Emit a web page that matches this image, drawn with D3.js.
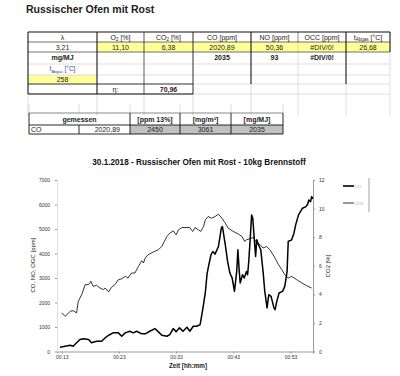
<!DOCTYPE html>
<html>
<head>
<meta charset="utf-8">
<script src="https://cdn.jsdelivr.net/npm/d3@7"></script>
<style>
body { margin: 0; background: #fff; }
svg { display: block; font-family: "Liberation Sans", Arial, sans-serif; }
</style>
</head>
<body>
<div id="chart"></div>
<script>
// Sheet values
const sheetTitle = 'Russischer Ofen mit Rost';
const headerMain = ['λ', 'O', 'CO', 'CO [ppm]', 'NO [ppm]', 'OCC [ppm]', 't'];
const headerSub = ['', '2', '2', '', '', '', 'Abgas'];
const headerRest = ['', ' [%]', ' [%]', '', '', '', ' [°C]'];
const measuredRow = ['3,21', '11,10', '6,38', '2020,89', '50,36', '#DIV/0!', '26,68'];
const mgRow = ['mg/MJ', '', '', '2035', '93', '#DIV/0!', ''];
const tGas = '258';
const eta = ['η:', '70,96'];

const coHeader = ['gemessen', '[ppm 13%]', '[mg/m³]', '[mg/MJ]'];
const coRow = ['CO', '2020,89', '2450', '3061', '2035'];

// Chart values
const chartTitle = '30.1.2018 - Russischer Ofen mit Rost - 10kg Brennstoff';
const tickMinutes = [13, 23, 33, 43, 53];
const tickLabels = ['00:13', '00:23', '00:33', '00:43', '00:53'];
const legendNames = ['CO', 'CO2'];

// CO [ppm] (thick line), time in minutes
const coTime = [12.7, 13.6, 14.5, 15.0, 15.6, 16.2, 16.8, 17.7, 18.2, 19.1, 20.0, 20.6, 21.2, 22.0, 22.9, 23.5,
  24.1, 24.9, 25.5, 26.1, 27.0, 27.6, 28.4, 29.3, 29.9, 30.5, 31.4, 31.9, 32.5, 33.0, 33.6, 34.2, 34.9,
  35.4, 36.0, 36.6, 37.2, 37.7, 38.1, 38.4, 38.6, 39.1, 39.4, 39.8, 40.4, 40.9, 41.1, 41.6, 42.0, 42.4,
  42.8, 43.2, 43.6, 43.8, 44.0, 44.2, 44.6, 44.9, 45.3, 45.5, 45.7, 46.0, 46.2, 46.4, 46.7, 46.9, 47.1,
  47.4, 47.8, 48.2, 48.5, 48.9, 49.2, 49.6, 50.1, 50.3, 50.6, 51.0, 51.6, 52.0, 52.4, 52.6, 53.2, 53.6,
  53.9, 54.4, 55.1, 55.7, 56.0, 56.2, 56.5, 56.7, 56.9];
const coValue = [175, 216, 256, 216, 354, 488, 517, 488, 354, 419, 419, 558, 663, 761, 761, 623,
  761, 826, 761, 826, 720, 720, 826, 936, 802, 663, 623, 692, 936, 802, 965, 826, 989,
  826, 1030, 1030, 1099, 1778, 2389, 3134, 3406, 3948, 4082, 3976, 4286, 5034, 5100, 4355, 3675, 3203,
  3000, 2454, 3268, 4151, 3406, 2796, 3134, 3000, 3268, 3134, 3675, 4762, 5576, 5442, 4489, 3879, 4558,
  4355, 4151, 3268, 2454, 1778, 2320, 2251, 1778, 1709, 2047, 2389, 2454, 2658, 3268, 4489, 4558, 4831,
  5169, 5576, 5848, 5914, 6011, 6186, 6117, 6321, 6227];

// CO2 [%] (thin line), time in minutes
const co2Time = [13.0, 13.6, 14.5, 15.0, 15.6, 15.9, 16.5, 17.1, 17.7, 18.1, 18.5, 19.1, 19.7, 20.3, 20.6,
  21.2, 21.7, 22.3, 22.9, 23.5, 24.1, 24.6, 25.2, 25.8, 26.4, 27.0, 27.3, 27.6, 28.1, 29.0, 29.9, 30.5,
  30.8, 31.4, 31.9, 32.5, 33.0, 33.4, 34.0, 34.9, 35.4, 35.9, 36.3, 36.9, 37.3, 37.8, 38.1, 38.6, 39.2,
  39.8, 40.4, 41.0, 41.6, 42.1, 43.0, 43.9, 44.5, 45.0, 45.3, 45.9, 46.5, 47.1, 47.7, 48.2, 48.8, 49.4,
  50.3, 50.9, 51.5, 52.0, 52.6, 53.2, 54.1, 55.0, 55.8, 56.7];
const co2Value = [2.70, 2.46, 2.81, 2.86, 2.70, 3.51, 3.98, 4.68, 4.68, 4.91, 4.56, 4.63, 4.44, 4.33, 4.44,
  4.17, 4.49, 4.68, 5.02, 5.09, 5.26, 5.14, 5.49, 5.49, 5.95, 6.35, 6.19, 6.54, 6.77, 6.96, 7.12, 7.35,
  7.59, 8.05, 8.28, 8.44, 8.16, 8.51, 8.67, 8.67, 8.67, 8.40, 8.67, 8.51, 8.40, 8.74, 9.21, 9.44, 9.33,
  9.44, 9.61, 9.33, 8.98, 8.63, 8.40, 8.21, 8.05, 7.70, 7.82, 7.89, 7.98, 7.59, 7.47, 7.24, 7.35, 7.12,
  6.54, 6.07, 5.72, 5.37, 5.14, 5.26, 5.02, 4.79, 4.61, 4.44];

const svg = d3.select('#chart').append('svg')
  .attr('width', 400)
  .attr('height', 376);

svg.append('rect').attr('width', 400).attr('height', 376).attr('fill', '#fff');

// ---------- Sheet title ----------
svg.append('text')
  .attr('x', 26).attr('y', 13)
  .style('font-size', '10.5px').style('font-weight', 'bold')
  .attr('fill', '#222')
  .text(sheetTitle);

// ---------- Table 1 ----------
const colX = [28, 97, 144, 193, 251, 298, 346, 390];
const rowY = [32, 42, 52, 64, 75, 84, 94];
const t1 = svg.append('g');
const mid = i => (colX[i] + colX[i + 1]) / 2;

// fills
measuredRow.forEach((v, i) => {
  if (i > 0) {
    t1.append('rect').attr('x', colX[i]).attr('y', rowY[1])
      .attr('width', colX[i + 1] - colX[i]).attr('height', rowY[2] - rowY[1])
      .attr('fill', '#ffff99');
  }
});
t1.append('rect').attr('x', colX[0]).attr('y', rowY[4])
  .attr('width', colX[1] - colX[0]).attr('height', rowY[5] - rowY[4])
  .attr('fill', '#ffff99');

// light grid
const grey = '#d4d4d4';
[rowY[3], rowY[4], rowY[5], rowY[6]].forEach(y => {
  t1.append('line').attr('x1', colX[0]).attr('x2', colX[7]).attr('y1', y).attr('y2', y)
    .attr('stroke', grey).attr('stroke-width', 0.8);
});
colX.forEach(x => {
  t1.append('line').attr('x1', x).attr('x2', x).attr('y1', rowY[0]).attr('y2', 116)
    .attr('stroke', grey).attr('stroke-width', 0.8);
});

// black borders
const black = (x1, y1, x2, y2, w) => t1.append('line')
  .attr('x1', x1).attr('y1', y1).attr('x2', x2).attr('y2', y2)
  .attr('stroke', '#111').attr('stroke-width', w || 0.8);
black(colX[0], rowY[0], colX[7], rowY[0], 1.2);
black(colX[0], rowY[1], colX[7], rowY[1], 0.6);
black(colX[0], rowY[2], colX[7], rowY[2], 0.6);
black(colX[0], rowY[5], colX[3], rowY[5], 0.8);
black(colX[0], rowY[6], colX[3], rowY[6], 1);
black(colX[0], rowY[0], colX[0], rowY[6], 1);
black(colX[1], rowY[0], colX[1], rowY[6], 1);
black(colX[2], rowY[0], colX[2], rowY[6], 0.6);
black(colX[3], rowY[0], colX[3], rowY[6], 0.8);
black(colX[4], rowY[0], colX[4], rowY[5], 1);
black(colX[5], rowY[0], colX[5], rowY[1], 0.4);
black(colX[6], rowY[0], colX[6], rowY[5], 1);
black(colX[7], rowY[0], colX[7], rowY[2], 1);

// header text with subscripts
headerMain.forEach((h, i) => {
  const txt = t1.append('text')
    .attr('x', mid(i)).attr('y', 39.5)
    .attr('text-anchor', 'middle')
    .style('font-size', '7px').attr('fill', '#222');
  txt.append('tspan').text(h);
  if (headerSub[i]) {
    txt.append('tspan').attr('dy', 1.5).style('font-size', '4.5px').text(headerSub[i]);
    txt.append('tspan').attr('dy', -1.5).text(headerRest[i]);
  }
});

measuredRow.forEach((v, i) => {
  t1.append('text').attr('x', mid(i)).attr('y', 49.5)
    .attr('text-anchor', 'middle').style('font-size', '7px').attr('fill', '#222')
    .text(v);
});
mgRow.forEach((v, i) => {
  if (!v) return;
  t1.append('text').attr('x', mid(i)).attr('y', 60)
    .attr('text-anchor', 'middle').style('font-size', '7px').style('font-weight', 'bold')
    .attr('fill', '#222').text(v);
});
const tg = t1.append('text').attr('x', mid(0)).attr('y', 71)
  .attr('text-anchor', 'middle').style('font-size', '6.5px').attr('fill', '#2b4c9a');
tg.append('tspan').text('t');
tg.append('tspan').attr('dy', 1.5).style('font-size', '4px').text('Abgas');
tg.append('tspan').attr('dy', -1.5).text(' [°C]');
t1.append('text').attr('x', mid(0)).attr('y', 81.5)
  .attr('text-anchor', 'middle').style('font-size', '7px').attr('fill', '#222').text(tGas);
t1.append('text').attr('x', mid(1) - 5).attr('y', 91.5)
  .attr('text-anchor', 'middle').style('font-size', '7px').attr('fill', '#222').text(eta[0]);
t1.append('text').attr('x', mid(2)).attr('y', 91.5)
  .attr('text-anchor', 'middle').style('font-size', '7px').style('font-weight', 'bold')
  .attr('fill', '#222').text(eta[1]);

// ---------- Table 2 ----------
const colX2 = [29, 79, 130, 180, 231, 283];
const rowY2 = [113, 125, 134];
const t2 = svg.append('g');
[2, 3, 4].forEach(i => {
  t2.append('rect').attr('x', colX2[i]).attr('y', rowY2[1])
    .attr('width', colX2[i + 1] - colX2[i]).attr('height', rowY2[2] - rowY2[1])
    .attr('fill', '#c0c0c0');
});
colX2.forEach(x => {
  t2.append('line').attr('x1', x).attr('x2', x).attr('y1', 104).attr('y2', rowY2[0])
    .attr('stroke', grey).attr('stroke-width', 0.8);
});
const line2 = (x1, y1, x2, y2, w) => t2.append('line')
  .attr('x1', x1).attr('y1', y1).attr('x2', x2).attr('y2', y2)
  .attr('stroke', '#111').attr('stroke-width', w || 0.8);
line2(colX2[0], rowY2[0], colX2[5], rowY2[0], 0.5);
line2(colX2[0], rowY2[1], colX2[5], rowY2[1], 0.9);
line2(colX2[0], rowY2[2], colX2[5], rowY2[2], 0.9);
[0, 2, 3, 4, 5].forEach(i => line2(colX2[i], rowY2[0], colX2[i], rowY2[2], 0.9));
line2(colX2[1], rowY2[1], colX2[1], rowY2[2], 0.9);

t2.append('text').attr('x', (colX2[0] + colX2[2]) / 2).attr('y', 122)
  .attr('text-anchor', 'middle').style('font-size', '7px').style('font-weight', 'bold')
  .attr('fill', '#222').text(coHeader[0]);
[1, 2, 3].forEach(k => {
  t2.append('text').attr('x', (colX2[k + 1] + colX2[k + 2]) / 2).attr('y', 122)
    .attr('text-anchor', 'middle').style('font-size', '7px').style('font-weight', 'bold')
    .attr('fill', '#222').text(coHeader[k]);
});
t2.append('text').attr('x', colX2[0] + 2).attr('y', 132)
  .style('font-size', '7px').attr('fill', '#222').text(coRow[0]);
t2.append('text').attr('x', colX2[2] - 10).attr('y', 132)
  .attr('text-anchor', 'end').style('font-size', '7px').attr('fill', '#222').text(coRow[1]);
[2, 3, 4].forEach(i => {
  t2.append('text').attr('x', (colX2[i] + colX2[i + 1]) / 2).attr('y', 132)
    .attr('text-anchor', 'middle').style('font-size', '7px').attr('fill', '#222').text(coRow[i]);
});

// ---------- Chart ----------
const plotLeft = 57, plotRight = 313, plotTop = 180, plotBottom = 351.5;

svg.append('text')
  .attr('x', 199).attr('y', 164.5)
  .attr('text-anchor', 'middle')
  .style('font-size', '8.2px').style('font-weight', 'bold')
  .attr('fill', '#111')
  .text(chartTitle);

const xScale = d3.scaleLinear().domain([12.18, 56.93]).range([plotLeft, plotRight]);
const yLeft = d3.scaleLinear().domain([0, 7000]).range([plotBottom, plotTop]);
const yRight = d3.scaleLinear().domain([0, 12]).range([plotBottom, plotTop]);

const g = svg.append('g');

// x axis
const xAxis = d3.axisBottom(xScale)
  .tickValues(tickMinutes)
  .tickFormat((d, i) => tickLabels[i])
  .tickSize(2);
const gx = g.append('g').attr('transform', `translate(0,${plotBottom})`).call(xAxis);
gx.select('.domain').attr('stroke', '#999');
gx.selectAll('.tick line').attr('stroke', '#999');
gx.selectAll('text').style('font-size', '5px').attr('fill', '#333').attr('dy', '0.5em')
  .style('font-family', '"Liberation Sans", Arial, sans-serif');

// left axis
const yAxisL = d3.axisLeft(yLeft).tickValues(d3.range(0, 7001, 1000)).tickSize(2)
  .tickFormat(d => d);
const gl = g.append('g').attr('transform', `translate(${plotLeft},0)`).call(yAxisL);
gl.select('.domain').attr('stroke', '#e0e0e0');
gl.selectAll('.tick line').attr('stroke', '#999');
gl.selectAll('text').style('font-size', '5px').attr('fill', '#333').attr('x', -7)
  .style('font-family', '"Liberation Sans", Arial, sans-serif');

// right axis
const yAxisR = d3.axisRight(yRight).tickValues(d3.range(0, 13, 2)).tickSize(2);
const gr = g.append('g').attr('transform', `translate(${plotRight},0)`).call(yAxisR);
gr.select('.domain').attr('stroke', '#999');
gr.selectAll('.tick line').attr('stroke', '#999');
gr.selectAll('text').style('font-size', '5px').attr('fill', '#333').attr('x', 6)
  .style('font-family', '"Liberation Sans", Arial, sans-serif');

// axis titles
svg.append('text')
  .attr('transform', 'rotate(-90)')
  .attr('x', -265).attr('y', 35)
  .attr('text-anchor', 'middle')
  .style('font-size', '6px').attr('fill', '#222')
  .text('CO, NO, OGC [ppm]');
svg.append('text')
  .attr('transform', 'rotate(-90)')
  .attr('x', -266).attr('y', 330)
  .attr('text-anchor', 'middle')
  .style('font-size', '6px').attr('fill', '#222')
  .text('CO2 [%]');
svg.append('text')
  .attr('x', 188).attr('y', 368)
  .attr('text-anchor', 'middle')
  .style('font-size', '6.3px').style('font-weight', 'bold').attr('fill', '#222')
  .text('Zeit [hh:mm]');

// lines
const coData = coTime.map((t, i) => ({ t: t, v: coValue[i] }));
const co2Data = co2Time.map((t, i) => ({ t: t, v: co2Value[i] }));

g.append('path')
  .datum(co2Data)
  .attr('fill', 'none').attr('stroke', '#000').attr('stroke-width', 0.8)
  .attr('d', d3.line().x(d => xScale(d.t)).y(d => yRight(d.v)));

g.append('path')
  .datum(coData)
  .attr('fill', 'none').attr('stroke', '#000').attr('stroke-width', 1.5)
  .attr('stroke-linejoin', 'round')
  .attr('d', d3.line().x(d => xScale(d.t)).y(d => yLeft(d.v)));

// legend
const legend = svg.append('g');
[1.6, 0.8].forEach((w, i) => {
  const y = 186 + i * 17;
  legend.append('line').attr('x1', 343).attr('x2', 354).attr('y1', y).attr('y2', y)
    .attr('stroke', '#000').attr('stroke-width', w);
  legend.append('text').attr('x', 355).attr('y', y + 1.5)
    .style('font-size', '4px').attr('fill', '#999').text(legendNames[i]);
});
legend.append('line').attr('x1', 369).attr('x2', 369).attr('y1', 178).attr('y2', 212)
  .attr('stroke', '#888').attr('stroke-width', 0.8);
</script>
</body>
</html>
